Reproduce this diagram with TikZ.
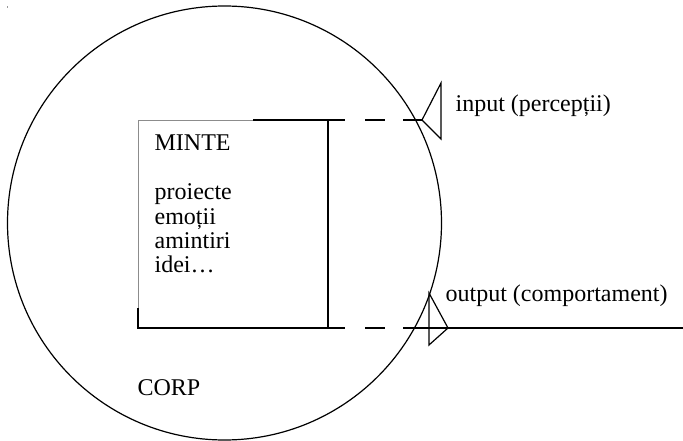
\documentclass[tikz,border=0pt]{standalone}
\usepackage{fontspec}
\setmainfont{Liberation Serif}
\begin{document}
\begin{tikzpicture}[x=1pt,y=-1pt,line width=1.2pt,
  lbl/.style={anchor=base west,inner sep=0pt,font=\fontsize{24}{27.6}\selectfont},
  faint/.style={line width=0.6pt,draw=black!45},
  tri/.style={line width=1.2pt,line join=miter}]
\useasboundingbox (0,0) rectangle (683,441);
% tiny mark
\fill[black!40] (6.5,6.5) rectangle (8,8);
% body circle
\draw (224.5,223) circle[radius=217];
% mind box corners
\coordinate (tl) at (138,120);
\coordinate (tm) at (253,120);
\coordinate (tr) at (328,120);
\coordinate (br) at (328,328);
\coordinate (bl) at (138,328);
\coordinate (lm) at (138,308);
\draw[faint] (tm) -- (tl) -- (lm);
\draw (tm) -- (tr) -- (br) -- (bl) -- (lm);
% input
\coordinate (inApex) at (422,120);
\coordinate (inTop) at (441,83);
\coordinate (inBot) at (441,139);
\draw[dash pattern=on 17pt off 20pt on 20pt off 18pt on 30pt off 100pt] (tr) -- (inApex);
\draw[tri] (inApex) -- (inTop) -- (inBot) -- cycle;
% output
\coordinate (outApex) at (448,328);
\coordinate (outTop) at (429,293);
\coordinate (outBot) at (429,345);
\coordinate (outEnd) at (683,328);
\draw[dash pattern=on 17pt off 20pt on 20pt off 18pt on 400pt] (br) -- (outEnd);
\draw[tri] (outApex) -- (outTop) -- (outBot) -- cycle;
% texts
\node[lbl] (inlbl) at (455,112) {input (percepții)};
\node[lbl] (outlbl) at (445,301) {output (comportament)};
\node[lbl] (corp) at (137,395) {CORP};
\node[lbl] (minte) at (154,150) {MINTE};
\node[lbl] (l1) at (154,200) {proiecte};
\node[lbl] (l2) at (154,224) {emoții};
\node[lbl] (l3) at (154,248) {amintiri};
\node[lbl] (l4) at (154,272) {idei…};
\end{tikzpicture}
\end{document}
